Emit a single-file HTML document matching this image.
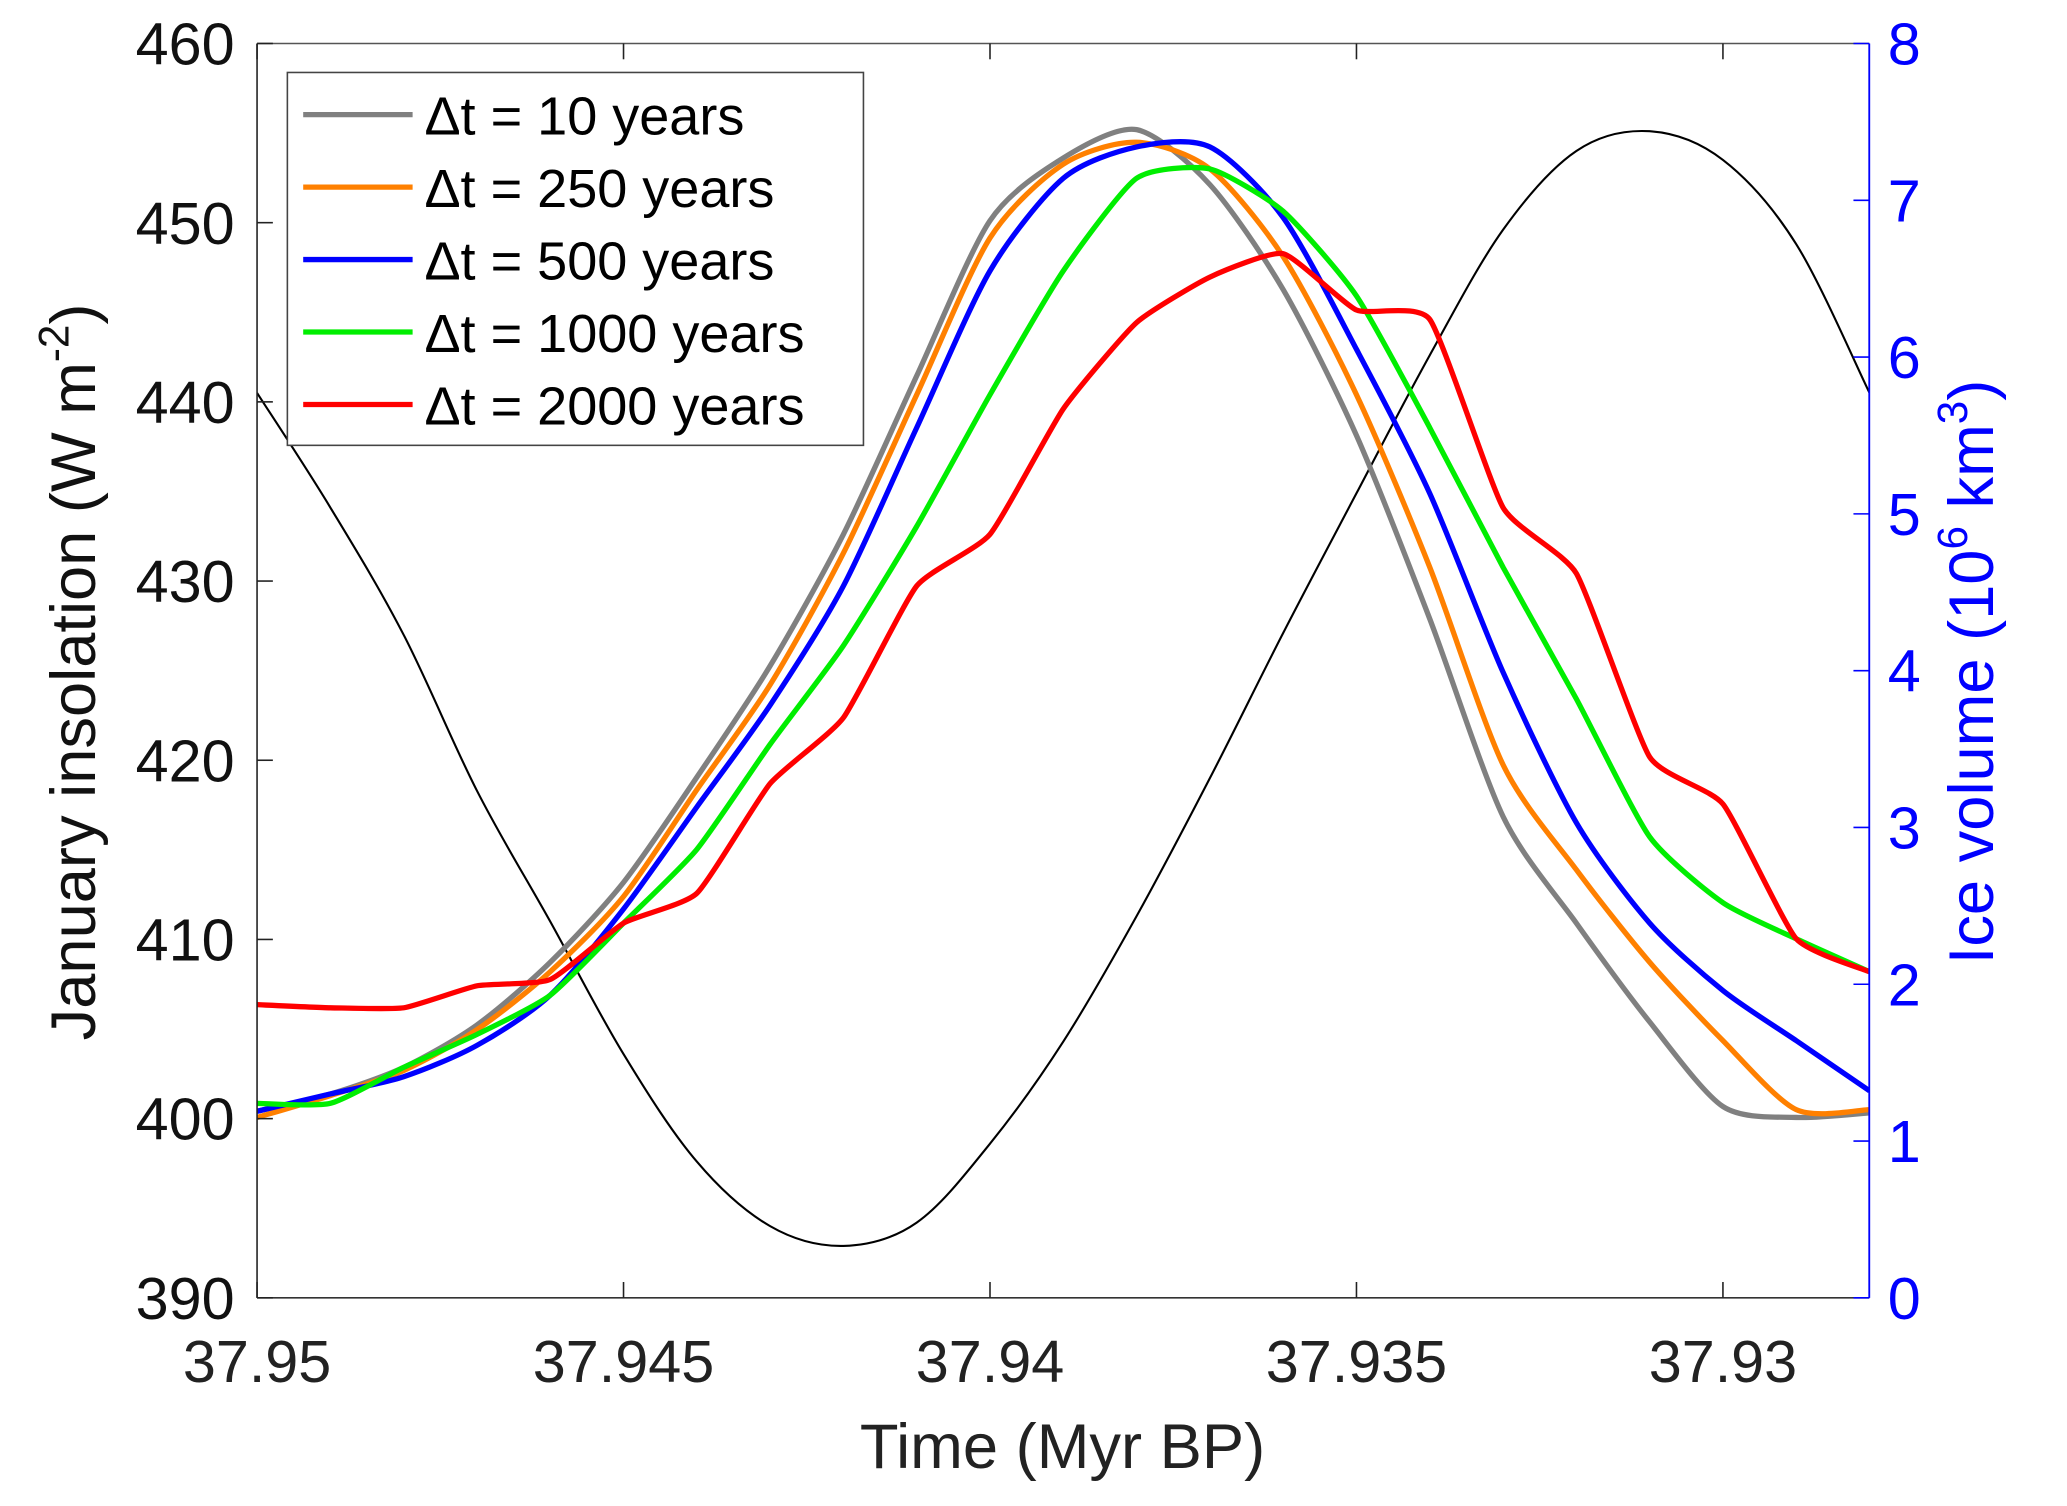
<!DOCTYPE html>
<html><head><meta charset="utf-8"><style>
html,body{margin:0;padding:0;background:#fff}
svg{display:block}
text{font-family:"Liberation Sans",Arial,sans-serif}
</style></head><body>
<svg id="chart" width="2067" height="1506" viewBox="0 0 1568 1143" preserveAspectRatio="none" xmlns="http://www.w3.org/2000/svg">
<g id="marks"></g>
<g id="axes"></g>
</svg>
<script>
const times=[37.950,37.949,37.948,37.947,37.946,37.945,37.944,37.943,37.942,37.941,37.940,37.939,37.938,37.937,37.936,37.935,37.934,37.933,37.932,37.931,37.930,37.929,37.928];
const insolation=[440.5,434.1,427.0,418.3,411.0,403.6,397.6,394.0,392.9,394.2,398.6,404.3,411.3,419.0,427.1,434.9,442.6,449.6,454.0,455.1,453.5,448.8,440.5];
const ice10=[1.19,1.30,1.47,1.74,2.14,2.65,3.32,4.03,4.87,5.88,6.87,7.27,7.45,7.10,6.43,5.50,4.33,3.07,2.39,1.76,1.22,1.15,1.18];
const ice250=[1.15,1.29,1.45,1.71,2.08,2.56,3.24,3.91,4.75,5.76,6.76,7.23,7.37,7.20,6.64,5.76,4.66,3.40,2.73,2.14,1.64,1.20,1.20];
const ice500=[1.19,1.30,1.41,1.61,1.93,2.48,3.13,3.78,4.54,5.55,6.55,7.14,7.34,7.34,6.89,6.05,5.13,3.99,3.03,2.39,1.96,1.64,1.32];
const ice1000=[1.24,1.24,1.47,1.68,1.93,2.39,2.86,3.53,4.16,4.92,5.76,6.55,7.14,7.20,6.93,6.39,5.55,4.66,3.82,2.94,2.52,2.29,2.08];
const ice2000=[1.87,1.85,1.85,1.99,2.03,2.39,2.58,3.28,3.70,4.54,4.87,5.67,6.22,6.51,6.66,6.30,6.24,5.04,4.62,3.45,3.15,2.29,2.08];
const xTicks=[37.95,37.945,37.94,37.935,37.93];
const xTickLabels=["37.95","37.945","37.94","37.935","37.93"];
const yLeftTicks=[390,400,410,420,430,440,450,460];
const yRightTicks=[0,1,2,3,4,5,6,7,8];

const NS="http://www.w3.org/2000/svg";
const L=195,R=1418,T=33,B=985;
const xs=t=>L+(37.95-t)/0.005*278;
const yl=v=>B-(v-390)/70*(B-T);
const yr=v=>B-v/8*(B-T);
function mk(tag,attrs,parent,txt){const e=document.createElementNS(NS,tag);for(const k in attrs)e.setAttribute(k,attrs[k]);if(txt!==undefined)e.textContent=txt;parent.appendChild(e);return e;}
const marks=document.getElementById('marks'),axes=document.getElementById('axes');

const clip=mk('clipPath',{id:'pc'},marks);mk('rect',{x:L,y:T,width:R-L,height:B-T},clip);
const g=mk('g',{'clip-path':'url(#pc)'},marks);
function line(vals,yf,color,w,name,smooth){
  const P=vals.map((v,i)=>[xs(times[i]),yf(v)]);
  let d='M'+P[0][0].toFixed(1)+','+P[0][1].toFixed(1);
  for(let i=0;i<P.length-1;i++){
    const p0=P[Math.max(0,i-1)],p1=P[i],p2=P[i+1],p3=P[Math.min(P.length-1,i+2)];
    const k=smooth/6;
    const c1=[p1[0]+(p2[0]-p0[0])*k,p1[1]+(p2[1]-p0[1])*k];
    const c2=[p2[0]-(p3[0]-p1[0])*k,p2[1]-(p3[1]-p1[1])*k];
    d+='C'+c1[0].toFixed(1)+','+c1[1].toFixed(1)+' '+c2[0].toFixed(1)+','+c2[1].toFixed(1)+' '+p2[0].toFixed(1)+','+p2[1].toFixed(1);
  }
  const p=mk('path',{d:d,fill:'none',stroke:color,'stroke-width':w,'stroke-linejoin':'round'},g);
  
  
}
line(insolation,yl,'#000',1.6,'insolation-line',1);
line(ice10,yr,'#808080',4,'ice-10yr-line',0.8);
line(ice250,yr,'#ff8000',4,'ice-250yr-line',0.8);
line(ice500,yr,'#0000ff',4,'ice-500yr-line',0.8);
line(ice1000,yr,'#00ee00',4,'ice-1000yr-line',0.6);
line(ice2000,yr,'#ff0000',4,'ice-2000yr-line',0.5);

mk('line',{x1:L,y1:T,x2:R,y2:T,stroke:'#555','stroke-width':1.2},axes);
mk('line',{x1:L,y1:B,x2:R,y2:B,stroke:'#333','stroke-width':1.2},axes);
mk('line',{x1:L,y1:T,x2:L,y2:B,stroke:'#222','stroke-width':1.2},axes);
mk('line',{x1:R,y1:T,x2:R,y2:B,stroke:'#0000ff','stroke-width':1.4},axes);
xTicks.forEach((t,i)=>{
  const x=xs(t);
  mk('line',{x1:x,y1:B,x2:x,y2:B-12,stroke:'#222','stroke-width':1.2},axes);
  mk('line',{x1:x,y1:T,x2:x,y2:T+12,stroke:'#222','stroke-width':1.2},axes);
  const tx=mk('text',{x:x,y:1049,'font-size':45,'text-anchor':'middle',fill:'#222'},axes,xTickLabels[i]);
  
  
});
yLeftTicks.forEach(v=>{
  const y=yl(v);
  mk('line',{x1:L,y1:y,x2:L+12,y2:y,stroke:'#222','stroke-width':1.2},axes);
  const tx=mk('text',{x:178,y:y+16,'font-size':45,'text-anchor':'end',fill:'#111'},axes,String(v));
  
  
});
yRightTicks.forEach(v=>{
  const y=yr(v);
  mk('line',{x1:R,y1:y,x2:R-12,y2:y,stroke:'#0000ff','stroke-width':1.2},axes);
  const tx=mk('text',{x:1432,y:y+16,'font-size':45,fill:'#0000ff'},axes,String(v));
  
  
});
</script>
<svg style="position:absolute;left:0;top:0" width="2067" height="1506" viewBox="0 0 1568 1143" preserveAspectRatio="none" xmlns="http://www.w3.org/2000/svg">
<text x="806" y="1114" font-size="48" text-anchor="middle" fill="#222" font-family="Liberation Sans, sans-serif">Time (Myr BP)</text>
<text transform="translate(72,510) rotate(-90)" font-size="48" text-anchor="middle" fill="#111" font-family="Liberation Sans, sans-serif">January insolation (W m<tspan dy="-20" font-size="32">-2</tspan><tspan dy="20">)</tspan></text>
<text transform="translate(1512,510) rotate(-90)" font-size="48" text-anchor="middle" fill="#0000ff" font-family="Liberation Sans, sans-serif">Ice volume (10<tspan dy="-20" font-size="32">6</tspan><tspan dy="20"> km</tspan><tspan dy="-20" font-size="32">3</tspan><tspan dy="20">)</tspan></text>
<g font-family="Liberation Sans, sans-serif" font-size="41">
<rect x="218" y="55" width="437" height="283" fill="#fff" stroke="#444" stroke-width="1.2"/>
<g><line x1="230" y1="87" x2="313" y2="87" stroke="#808080" stroke-width="4"/><text x="322" y="102">Δt = 10 years</text></g>
<g><line x1="230" y1="142" x2="313" y2="142" stroke="#ff8000" stroke-width="4"/><text x="322" y="157">Δt = 250 years</text></g>
<g><line x1="230" y1="197" x2="313" y2="197" stroke="#0000ff" stroke-width="4"/><text x="322" y="212">Δt = 500 years</text></g>
<g><line x1="230" y1="252" x2="313" y2="252" stroke="#00ee00" stroke-width="4"/><text x="322" y="267">Δt = 1000 years</text></g>
<g><line x1="230" y1="307" x2="313" y2="307" stroke="#ff0000" stroke-width="4"/><text x="322" y="322">Δt = 2000 years</text></g>
</g>
</svg>
</body></html>
